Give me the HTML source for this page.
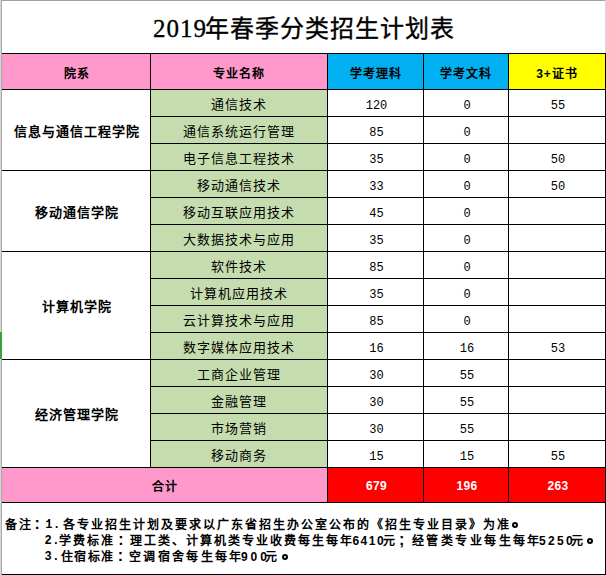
<!DOCTYPE html>
<html lang="zh-CN"><head><meta charset="utf-8">
<style>
html,body{margin:0;padding:0;background:#fff;}
body{width:606px;height:575px;position:relative;overflow:hidden;font-family:"Liberation Sans",sans-serif;color:#000;}
i{position:absolute;display:block;}
.t{position:absolute;display:block;text-align:center;white-space:nowrap;font-weight:normal;}
.s{position:absolute;display:block;white-space:nowrap;line-height:16px;}
.hd{font-size:12px;font-weight:bold;letter-spacing:1px;text-indent:1px;}
.hj{font-size:12px;font-weight:bold;letter-spacing:1px;text-indent:1px;}
.bd{font-size:13px;letter-spacing:1px;text-indent:1px;}
.num{font-size:12px;font-family:"Liberation Mono",monospace;text-indent:3px;}
.col{font-size:13px;font-weight:bold;letter-spacing:1px;text-indent:1px;}
.tot{font-size:12px;font-weight:bold;color:#fff;text-indent:3px;letter-spacing:0.3px;}
.nt{font-size:12px;font-weight:bold;}
.fw{display:inline-block;box-sizing:border-box;text-align:left;letter-spacing:0;font-family:"Liberation Sans",sans-serif;font-size:16px;line-height:14px;}
.mono{font-family:"Liberation Mono",monospace;}
.dot{width:2px;height:2px;border:2px solid #000;border-radius:50%;}
.title{position:absolute;left:0;top:0;width:606px;height:53px;font-family:"Liberation Serif",serif;}
.title span{position:absolute;top:0;line-height:53px;white-space:nowrap;-webkit-text-stroke:0.35px #000;}
</style></head><body>
<div class="title"><span style="left:153px;font-size:25px;top:2px;letter-spacing:1px">2019</span><span style="left:205px;font-size:24px;top:3px;letter-spacing:1px">年春季分类招生计划表</span></div>
<i style="left:2px;top:53px;width:325px;height:36px;background:#FF99CC"></i>
<i style="left:327px;top:53px;width:181px;height:36px;background:#00B0F0"></i>
<i style="left:508px;top:53px;width:97px;height:36px;background:#FFFF00"></i>
<i style="left:150px;top:89px;width:177px;height:378px;background:#C5DDAE"></i>
<i style="left:2px;top:467px;width:325px;height:35px;background:#FF99CC"></i>
<i style="left:327px;top:467px;width:278px;height:35px;background:#FF0000"></i>
<i style="left:2px;top:53px;width:604px;height:1px;background:#000"></i>
<i style="left:2px;top:89px;width:604px;height:1px;background:#000"></i>
<i style="left:150px;top:116px;width:456px;height:1px;background:#000"></i>
<i style="left:150px;top:143px;width:456px;height:1px;background:#000"></i>
<i style="left:2px;top:170px;width:604px;height:1px;background:#000"></i>
<i style="left:150px;top:197px;width:456px;height:1px;background:#000"></i>
<i style="left:150px;top:224px;width:456px;height:1px;background:#000"></i>
<i style="left:2px;top:251px;width:604px;height:1px;background:#000"></i>
<i style="left:150px;top:278px;width:456px;height:1px;background:#000"></i>
<i style="left:150px;top:305px;width:456px;height:1px;background:#000"></i>
<i style="left:150px;top:332px;width:456px;height:1px;background:#000"></i>
<i style="left:2px;top:359px;width:604px;height:1px;background:#000"></i>
<i style="left:150px;top:386px;width:456px;height:1px;background:#000"></i>
<i style="left:150px;top:413px;width:456px;height:1px;background:#000"></i>
<i style="left:150px;top:440px;width:456px;height:1px;background:#000"></i>
<i style="left:2px;top:467px;width:604px;height:1px;background:#000"></i>
<i style="left:2px;top:502px;width:604px;height:1px;background:#000"></i>
<i style="left:2px;top:574px;width:604px;height:1px;background:#000"></i>
<i style="left:150px;top:53px;width:1px;height:415px;background:#000"></i>
<i style="left:327px;top:53px;width:1px;height:450px;background:#000"></i>
<i style="left:423px;top:53px;width:1px;height:450px;background:#000"></i>
<i style="left:508px;top:53px;width:1px;height:450px;background:#000"></i>
<i style="left:605px;top:53px;width:1px;height:522px;background:#000"></i>
<i style="left:0px;top:0px;width:606px;height:1px;background:#A0A0A0"></i>
<i style="left:0px;top:0px;width:1px;height:575px;background:#D8D8D8"></i>
<i style="left:1px;top:0px;width:1px;height:575px;background:#A8A8A8"></i>
<i style="left:605px;top:0px;width:1px;height:53px;background:#D8D8D8"></i>
<i style="left:0px;top:332px;width:2px;height:27px;background:#3CA03C"></i>
<b class="t hd" style="left:2px;top:56px;width:148px;height:36px;line-height:36px">院系</b>
<b class="t hd" style="left:150px;top:56px;width:177px;height:36px;line-height:36px">专业名称</b>
<b class="t hd" style="left:327px;top:56px;width:96px;height:36px;line-height:36px">学考理科</b>
<b class="t hd" style="left:423px;top:56px;width:85px;height:36px;line-height:36px">学考文科</b>
<b class="t hd" style="left:508px;top:56px;width:97px;height:36px;line-height:36px">3+证书</b>
<b class="t bd" style="left:150px;top:91px;width:177px;height:27px;line-height:27px">通信技术</b>
<b class="t num" style="left:327px;top:93px;width:96px;height:27px;line-height:27px">120</b>
<b class="t num" style="left:423px;top:93px;width:85px;height:27px;line-height:27px">0</b>
<b class="t num" style="left:508px;top:93px;width:97px;height:27px;line-height:27px">55</b>
<b class="t bd" style="left:150px;top:118px;width:177px;height:27px;line-height:27px">通信系统运行管理</b>
<b class="t num" style="left:327px;top:120px;width:96px;height:27px;line-height:27px">85</b>
<b class="t num" style="left:423px;top:120px;width:85px;height:27px;line-height:27px">0</b>
<b class="t bd" style="left:150px;top:145px;width:177px;height:27px;line-height:27px">电子信息工程技术</b>
<b class="t num" style="left:327px;top:147px;width:96px;height:27px;line-height:27px">35</b>
<b class="t num" style="left:423px;top:147px;width:85px;height:27px;line-height:27px">0</b>
<b class="t num" style="left:508px;top:147px;width:97px;height:27px;line-height:27px">50</b>
<b class="t bd" style="left:150px;top:172px;width:177px;height:27px;line-height:27px">移动通信技术</b>
<b class="t num" style="left:327px;top:174px;width:96px;height:27px;line-height:27px">33</b>
<b class="t num" style="left:423px;top:174px;width:85px;height:27px;line-height:27px">0</b>
<b class="t num" style="left:508px;top:174px;width:97px;height:27px;line-height:27px">50</b>
<b class="t bd" style="left:150px;top:199px;width:177px;height:27px;line-height:27px">移动互联应用技术</b>
<b class="t num" style="left:327px;top:201px;width:96px;height:27px;line-height:27px">45</b>
<b class="t num" style="left:423px;top:201px;width:85px;height:27px;line-height:27px">0</b>
<b class="t bd" style="left:150px;top:226px;width:177px;height:27px;line-height:27px">大数据技术与应用</b>
<b class="t num" style="left:327px;top:228px;width:96px;height:27px;line-height:27px">35</b>
<b class="t num" style="left:423px;top:228px;width:85px;height:27px;line-height:27px">0</b>
<b class="t bd" style="left:150px;top:253px;width:177px;height:27px;line-height:27px">软件技术</b>
<b class="t num" style="left:327px;top:255px;width:96px;height:27px;line-height:27px">85</b>
<b class="t num" style="left:423px;top:255px;width:85px;height:27px;line-height:27px">0</b>
<b class="t bd" style="left:150px;top:280px;width:177px;height:27px;line-height:27px">计算机应用技术</b>
<b class="t num" style="left:327px;top:282px;width:96px;height:27px;line-height:27px">35</b>
<b class="t num" style="left:423px;top:282px;width:85px;height:27px;line-height:27px">0</b>
<b class="t bd" style="left:150px;top:307px;width:177px;height:27px;line-height:27px">云计算技术与应用</b>
<b class="t num" style="left:327px;top:309px;width:96px;height:27px;line-height:27px">85</b>
<b class="t num" style="left:423px;top:309px;width:85px;height:27px;line-height:27px">0</b>
<b class="t bd" style="left:150px;top:334px;width:177px;height:27px;line-height:27px">数字媒体应用技术</b>
<b class="t num" style="left:327px;top:336px;width:96px;height:27px;line-height:27px">16</b>
<b class="t num" style="left:423px;top:336px;width:85px;height:27px;line-height:27px">16</b>
<b class="t num" style="left:508px;top:336px;width:97px;height:27px;line-height:27px">53</b>
<b class="t bd" style="left:150px;top:361px;width:177px;height:27px;line-height:27px">工商企业管理</b>
<b class="t num" style="left:327px;top:363px;width:96px;height:27px;line-height:27px">30</b>
<b class="t num" style="left:423px;top:363px;width:85px;height:27px;line-height:27px">55</b>
<b class="t bd" style="left:150px;top:388px;width:177px;height:27px;line-height:27px">金融管理</b>
<b class="t num" style="left:327px;top:390px;width:96px;height:27px;line-height:27px">30</b>
<b class="t num" style="left:423px;top:390px;width:85px;height:27px;line-height:27px">55</b>
<b class="t bd" style="left:150px;top:415px;width:177px;height:27px;line-height:27px">市场营销</b>
<b class="t num" style="left:327px;top:417px;width:96px;height:27px;line-height:27px">30</b>
<b class="t num" style="left:423px;top:417px;width:85px;height:27px;line-height:27px">55</b>
<b class="t bd" style="left:150px;top:442px;width:177px;height:27px;line-height:27px">移动商务</b>
<b class="t num" style="left:327px;top:444px;width:96px;height:27px;line-height:27px">15</b>
<b class="t num" style="left:423px;top:444px;width:85px;height:27px;line-height:27px">15</b>
<b class="t num" style="left:508px;top:444px;width:97px;height:27px;line-height:27px">55</b>
<b class="t col" style="left:2px;top:90.5px;width:148px;height:81px;line-height:81px">信息与通信工程学院</b>
<b class="t col" style="left:2px;top:171.5px;width:148px;height:81px;line-height:81px">移动通信学院</b>
<b class="t col" style="left:2px;top:252.5px;width:148px;height:108px;line-height:108px">计算机学院</b>
<b class="t col" style="left:2px;top:360.5px;width:148px;height:108px;line-height:108px">经济管理学院</b>
<b class="t hj" style="left:2px;top:470px;width:325px;height:35px;line-height:35px">合计</b>
<b class="t tot" style="left:327px;top:468.5px;width:96px;height:35px;line-height:35px">679</b>
<b class="t tot" style="left:423px;top:468.5px;width:85px;height:35px;line-height:35px">196</b>
<b class="t tot" style="left:508px;top:468.5px;width:97px;height:35px;line-height:35px">263</b>
<b class="s nt" style="left:5px;top:517px;letter-spacing:1.8px">备注<span class="fw" style="width:9px;text-align:center">:</span></b>
<b class="s nt mono" style="left:45.3px;top:517px;letter-spacing:0.5px">1.</b>
<b class="s nt" style="left:62.6px;top:517px;letter-spacing:2.003px">各专业招生计划及要求以广东省招生办公室公布的《招生专业目录》为准</b>
<b class="s nt mono" style="left:44.5px;top:533px;letter-spacing:0.5px">2.</b>
<b class="s nt" style="left:58.8px;top:533px;letter-spacing:2.233px">学费标准<span class="fw" style="width:14px;padding-left:2.5px">:</span></b>
<b class="s nt" style="left:129.9px;top:533px;letter-spacing:2.007px">理工类、计算机类专业收费每生每年</b>
<b class="s nt" style="left:352.4px;top:533px;letter-spacing:1.533px">6410</b>
<b class="s nt" style="left:383px;top:533px;letter-spacing:2.45px">元<span class="fw" style="width:14.45px;padding-left:1.5px">;</span>经管类专业每生每年</b>
<b class="s nt" style="left:539px;top:533px;letter-spacing:2.333px">5250</b>
<b class="s nt" style="left:571px;top:533px;letter-spacing:0px">元</b>
<b class="s nt mono" style="left:44.5px;top:549px;letter-spacing:0.5px">3.</b>
<b class="s nt" style="left:60.6px;top:549px;letter-spacing:1.633px">住宿标准<span class="fw" style="width:14px;padding-left:2.5px">:</span></b>
<b class="s nt" style="left:129px;top:549px;letter-spacing:2.357px">空调宿舍每生每年</b>
<b class="s nt" style="left:241px;top:549px;letter-spacing:2.9px">900</b>
<b class="s nt" style="left:264.7px;top:549px;letter-spacing:0px">元</b>
<i class="dot" style="left:511.7px;top:521.5px"></i>
<i class="dot" style="left:587.4px;top:537.5px"></i>
<i class="dot" style="left:281.6px;top:553.5px"></i>
</body></html>
